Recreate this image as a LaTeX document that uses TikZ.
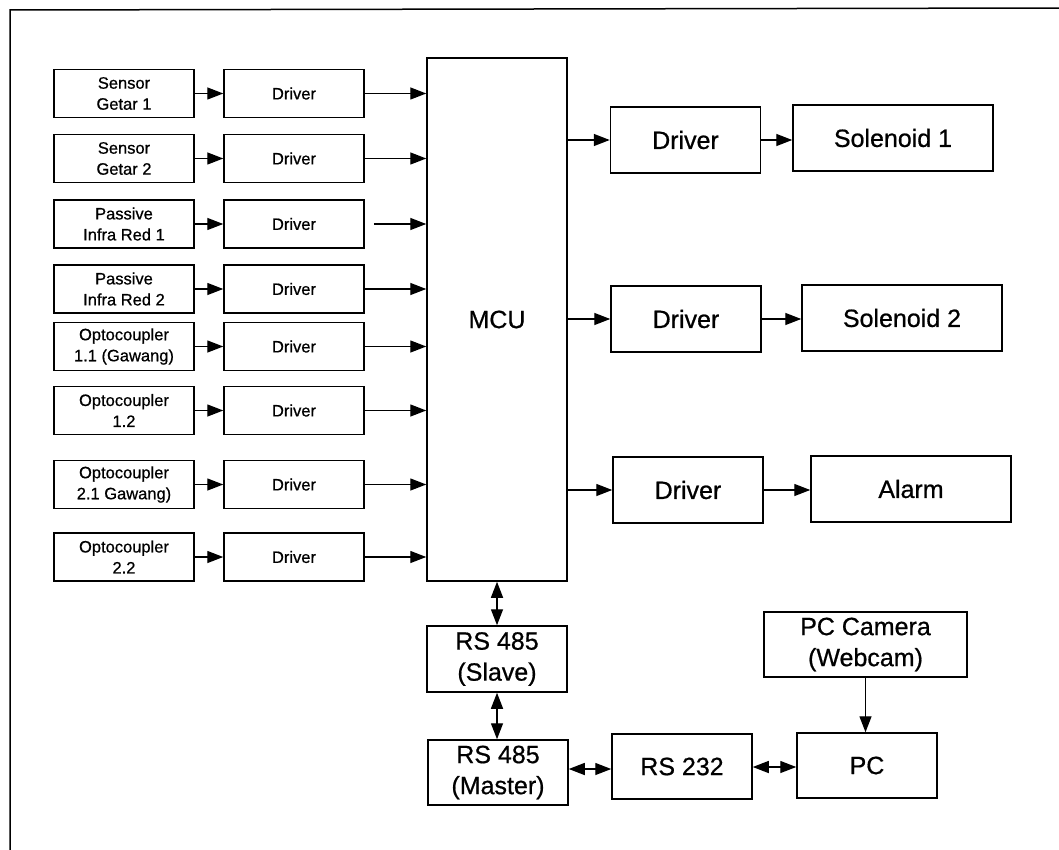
\documentclass[tikz,border=0pt]{standalone}
\usepackage{fontspec}
\setmainfont{Liberation Sans}
\newfontfamily\heavy[FakeBold=0.7]{Liberation Sans}
\usetikzlibrary{arrows.meta}
\tikzset{
  box/.style={draw, line width=1.5pt, inner sep=0pt, align=center},
  small/.style={box, minimum width=140pt, minimum height=48pt, font=\heavy\fontsize{16.5}{21}\selectfont},
  big/.style={box, minimum height=66pt, font=\heavy\fontsize{25}{31}\selectfont},
  arr/.style={line width=1.4pt, -{Triangle[length=16pt,width=12pt]}},
  darr/.style={line width=1.4pt, {Triangle[length=16pt,width=12pt]}-{Triangle[length=16pt,width=12pt]}},
}
\begin{document}
\begin{tikzpicture}[x=1pt,y=-1pt]
\useasboundingbox (0,0) rectangle (1059,850);
\draw[line width=1.5pt] (10,852) -- (10,10) -- (1062,8);
% left sources
\node[small] (s1) at (124,93.5) {Sensor\\Getar 1};
\node[small] (s2) at (124,158.5) {Sensor\\Getar 2};
\node[small] (s3) at (124,224) {Passive\\Infra Red 1};
\node[small] (s4) at (124,289) {Passive\\Infra Red 2};
\node[small] (s5) at (124,346.5) {Optocoupler\\1.1 (Gawang)};
\node[small] (s6) at (124,410.5) {Optocoupler\\1.2};
\node[small] (s7) at (124,484.5) {Optocoupler\\2.1 Gawang)};
\node[small] (s8) at (124,557) {Optocoupler\\2.2};
% left drivers
\node[small] (l1) at (294,93.5) {Driver};
\node[small] (l2) at (294,158.5) {Driver};
\node[small] (l3) at (294,224) {Driver};
\node[small] (l4) at (294,289) {Driver};
\node[small] (l5) at (294,346.5) {Driver};
\node[small] (l6) at (294,410.5) {Driver};
\node[small] (l7) at (294,484.5) {Driver};
\node[small] (l8) at (294,557) {Driver};
% MCU
\node[big, minimum width=140pt, minimum height=523pt] (mcu) at (497,319.5) {MCU};
% right side
\node[big, minimum width=150pt] (r1) at (685.5,140) {Driver};
\node[big, minimum width=150pt] (r2) at (686,319) {Driver};
\node[big, minimum width=150pt] (r3) at (688,490) {Driver};
\node[big, minimum width=200pt] (sol1) at (893,138) {Solenoid 1};
\node[big, minimum width=200pt] (sol2) at (902,318) {Solenoid 2};
\node[big, minimum width=200pt] (alarm) at (911,489) {Alarm};
% bottom
\node[big, minimum width=140pt] (slave) at (497,659) {RS 485\\(Slave)};
\node[big, minimum width=140pt, minimum height=65pt] (master) at (498,772.5) {RS 485\\(Master)};
\node[big, minimum width=140pt, minimum height=65pt] (rs232) at (682,766.5) {RS 232};
\node[big, minimum width=140pt, minimum height=65pt] (pc) at (867,765.5) {PC};
\node[big, minimum width=203pt, minimum height=65pt] (cam) at (865.5,644.5) {PC Camera\\(Webcam)};
% left arrows
\foreach \i in {1,...,8} {
  \draw[arr] (s\i.east) -- (l\i.west);
}
\foreach \i in {1,2,4,5,6,7,8} {
  \draw[arr] (l\i.east) -- (l\i.east -| mcu.west);
}
\draw[arr] ([xshift=9pt]l3.east) -- (l3.east -| mcu.west);
% right arrows
\draw[arr] (r1.west -| mcu.east) -- (r1.west);
\draw[arr] (r2.west -| mcu.east) -- (r2.west);
\draw[arr] (r3.west -| mcu.east) -- (r3.west);
\draw[arr] (r1.east) -- (r1.east -| sol1.west);
\draw[arr] (r2.east) -- (r2.east -| sol2.west);
\draw[arr] (r3.east) -- (r3.east -| alarm.west);
% bottom arrows
\draw[darr] (mcu.south) -- (slave.north);
\draw[darr] (slave.south) -- (slave.south |- master.north);
\draw[darr] (master.east |- 0,769) -- (rs232.west |- 0,769);
\draw[darr] (rs232.east |- 0,767) -- (pc.west |- 0,767);
\draw[arr] (cam.south) -- (cam.south |- pc.north);
\end{tikzpicture}
\end{document}
